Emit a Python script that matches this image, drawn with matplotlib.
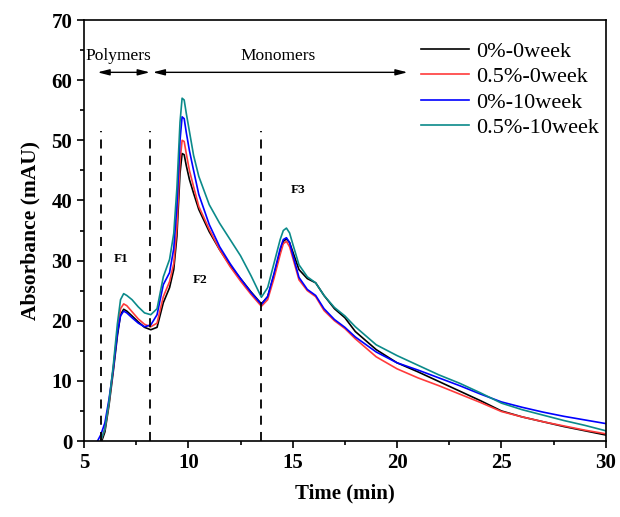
import numpy as np
import matplotlib
matplotlib.use('Agg')
import matplotlib.pyplot as plt
from matplotlib.ticker import MultipleLocator

plt.rcParams['font.family'] = ['Liberation Serif', 'DejaVu Serif']

# tempo de retencao (min), comum as quatro curvas
tempo = [5.6, 5.8, 6.0, 6.2, 6.4, 6.6, 6.75, 6.9, 7.05, 7.3, 7.6, 7.9, 8.2, 8.5, 8.8,
         9.1, 9.3, 9.45, 9.6, 9.7, 9.8, 9.9, 10.05, 10.25, 10.5, 11.0, 11.5, 12.0, 12.5, 13.0,
         13.5, 13.8, 14.1, 14.4, 14.55, 14.7, 14.85, 15.0, 15.3, 15.7, 16.1, 16.5, 17.0, 17.5, 18.0,
         19.0, 20.0, 21.0, 22.0, 23.0, 24.0, 25.0, 26.0, 27.0, 28.0, 29.0, 30.0]

abs_0_0 = [-1, -0.5, 1.5, 6, 11.5, 17.5, 21.0, 21.9, 21.6, 20.8, 19.8, 18.9, 18.5, 18.9, 23.0,
           25.5, 28.5, 34, 44.5, 47.8, 47.6, 45.8, 43.5, 41.2, 38.5, 34.8, 31.8, 29.2, 27.0, 24.8,
           22.8, 24.0, 27.5, 31.5, 33.2, 33.6, 33.0, 31.5, 28.5, 27.0, 26.3, 24.2, 22.0, 20.5, 18.2,
           15.2, 13.0, 11.5, 9.9, 8.3, 6.7, 5.0, 4.0, 3.2, 2.4, 1.7, 1.0]

abs_05_0 = [-1, 0, 2, 6.5, 12, 18.5, 22.0, 22.8, 22.5, 21.5, 20.3, 19.4, 19.0, 19.6, 24,
            26.5, 29.5, 35.5, 46.5, 50.0, 49.8, 47.8, 45.0, 42.3, 39, 35.2, 31.8, 29.0, 26.6, 24.4,
            22.4, 23.5, 27, 31, 32.8, 33.2, 32.3, 30.5, 26.8, 25.0, 24.0, 21.7, 20.0, 18.7, 17.0,
            14.0, 12.0, 10.5, 9.2, 7.8, 6.4, 4.9, 4.0, 3.2, 2.5, 1.8, 1.2]

abs_0_10 = [-0.3, 1.0, 3, 7, 12, 18, 20.8, 21.6, 21.3, 20.5, 19.6, 19.0, 19.3, 21.0, 26,
            28, 32, 39, 50, 53.9, 53.6, 51.3, 48.3, 45.0, 41, 36, 32.3, 29.5, 27.0, 24.7,
            22.7, 24.0, 27.8, 32, 33.5, 33.8, 33.0, 31.0, 27.2, 25.2, 24.2, 22.0, 20.2, 18.9, 17.3,
            14.8, 13.0, 11.8, 10.5, 9.2, 7.8, 6.5, 5.6, 4.8, 4.1, 3.5, 2.9]

abs_05_10 = [-1, 0, 2, 6.5, 12.5, 19.5, 23.5, 24.5, 24.2, 23.5, 22.3, 21.3, 21.0, 22.0, 27.3,
             30.2, 34.5, 42, 53, 57.0, 56.7, 54.5, 51.5, 47.5, 44.0, 39.3, 36.2, 33.5, 30.8, 27.5,
             23.9, 25.5, 29.5, 33.5, 35.0, 35.4, 34.6, 32.8, 29.3, 27.3, 26.3, 24.2, 22.2, 20.8, 19.0,
             16.0, 14.2, 12.6, 11.0, 9.6, 8.0, 6.3, 5.2, 4.3, 3.4, 2.6, 1.7]

legendas = ['0%-0week', '0.5%-0week', '0%-10week', '0.5%-10week']
cores = ['black', '#FF3B3B', '#0000FF', '#0B8A8A']

# divisoes das fracoes F1, F2, F3
cortes = [5.8, 8.15, 13.5]

fig, ax = plt.subplots(figsize=(6.2, 5.17), dpi=100)
fig.subplots_adjust(left=0.1355, right=0.977, top=0.9613, bottom=0.147)

for serie, nome, cor in zip([abs_0_0, abs_05_0, abs_0_10, abs_05_10], legendas, cores):
    ax.plot(tempo, serie, color=cor, lw=1.2, label=nome)

for c in cortes:
    ax.plot([c, c], [0, 51.5], color='black', lw=1.3, linestyle=(0, (5, 4)))

seta = dict(arrowstyle='<|-|>,head_length=0.7,head_width=0.18', color='black', lw=1,
            shrinkA=0, shrinkB=0)
ax.annotate('', xy=(5.65, 61.3), xytext=(8.15, 61.3), arrowprops=seta)
ax.annotate('', xy=(8.3, 61.3), xytext=(20.5, 61.3), arrowprops=seta)
ax.text(6.65, 64.0, 'Polymers', ha='center', va='center', fontsize=12.5)
ax.text(14.3, 64.0, 'Monomers', ha='center', va='center', fontsize=12.5)

ax.text(6.8, 30.3, 'F1', ha='center', va='center', fontsize=9.5, fontweight='bold')
ax.text(10.55, 26.8, 'F2', ha='center', va='center', fontsize=9.5, fontweight='bold')
ax.text(15.25, 41.8, 'F3', ha='center', va='center', fontsize=9.5, fontweight='bold')

ax.set_xlim(5, 30)
ax.set_ylim(0, 70)
ax.xaxis.set_major_locator(MultipleLocator(5))
ax.xaxis.set_minor_locator(MultipleLocator(2.5))
ax.yaxis.set_major_locator(MultipleLocator(10))
ax.yaxis.set_minor_locator(MultipleLocator(5))
ax.tick_params(which='major', direction='out', length=5, width=1.2, labelsize=15)
ax.tick_params(which='minor', direction='out', length=3, width=1.2)
for lab in ax.get_xticklabels() + ax.get_yticklabels():
    lab.set_fontweight('bold')
for s in ax.spines.values():
    s.set_linewidth(1.2)

ax.set_xlabel('Time (min)', fontsize=15, fontweight='bold', labelpad=8)
ax.set_ylabel('Absorbance (mAU)', fontsize=15.5, fontweight='bold', labelpad=8)

ax.legend(loc='upper left', bbox_to_anchor=(0.645, 0.95), frameon=False,
          fontsize=16, handlelength=2.2, handletextpad=0.3, labelspacing=0.22,
          borderaxespad=0, borderpad=0)

plt.savefig('out.png', dpi=100)
